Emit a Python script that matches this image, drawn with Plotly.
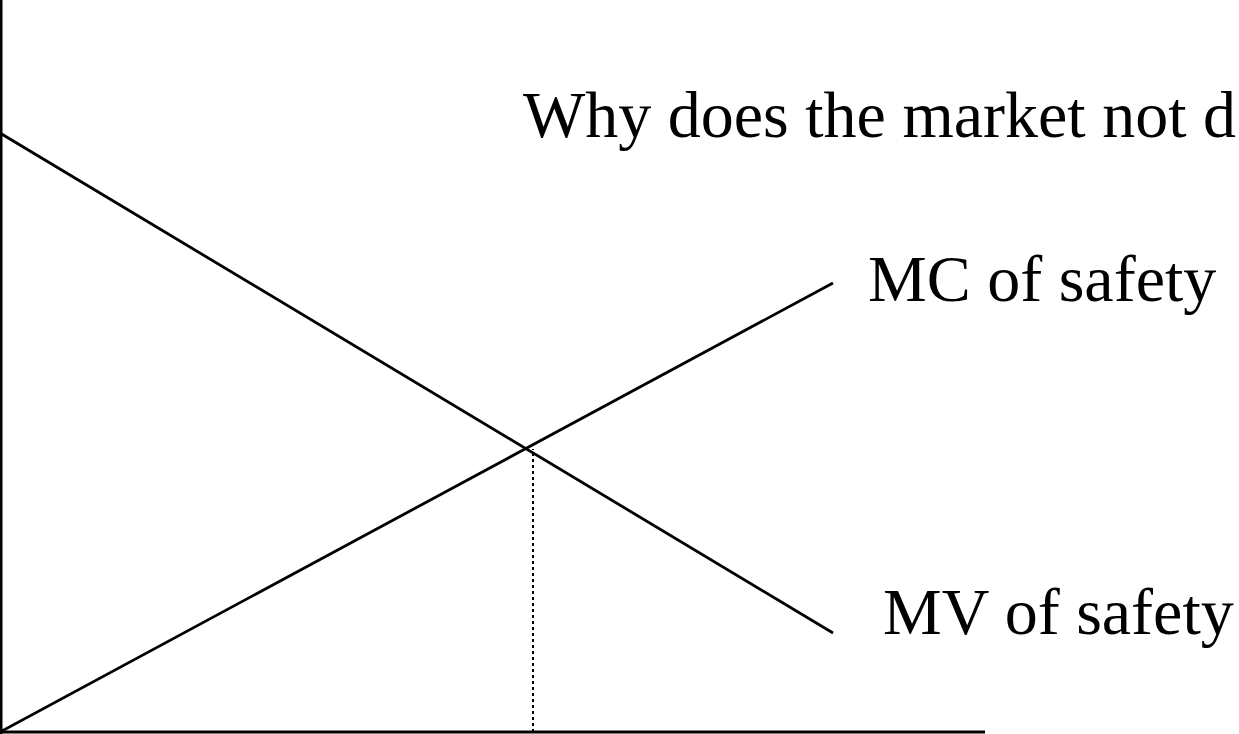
import plotly.graph_objects as go

# Data (value units on a 0..734 vertical scale, quantity on 0..1239)
quantity = [0, 833]
mv_safety = [601, 101]
mc_safety = [2, 451]
eq_quantity = [533, 533]
eq_value = [2, 285]
x_axis_x = [0, 985]
x_axis_y = [2, 2]
y_axis_x = [1, 1]
y_axis_y = [0, 734]

labels = ["Why does the market not d", "MC of safety", "MV of safety"]
label_x = [521, 866, 881]
label_y = [620, 456, 123]
label_size = [66, 66, 66]

fig = go.Figure()
line_style = dict(color="black", width=2.8)
fig.add_trace(go.Scatter(x=y_axis_x, y=y_axis_y, mode="lines", line=dict(color="black", width=3)))
fig.add_trace(go.Scatter(x=x_axis_x, y=x_axis_y, mode="lines", line=dict(color="black", width=3)))
fig.add_trace(go.Scatter(x=quantity, y=mv_safety, mode="lines", line=line_style))
fig.add_trace(go.Scatter(x=quantity, y=mc_safety, mode="lines", line=line_style))
fig.add_trace(go.Scatter(x=eq_quantity, y=eq_value, mode="lines",
                         line=dict(color="black", width=2, dash="dot")))

for t, x, y, s in zip(labels, label_x, label_y, label_size):
    fig.add_annotation(x=x, y=y, text=t, showarrow=False, xanchor="left", yanchor="middle",
                       font=dict(family="Liberation Serif, Times New Roman, serif", size=s, color="black"))

fig.update_layout(
    width=1239, height=734,
    margin=dict(l=0, r=0, t=0, b=0),
    paper_bgcolor="white", plot_bgcolor="white",
    showlegend=False,
    xaxis=dict(range=[0, 1239], visible=False, fixedrange=True),
    yaxis=dict(range=[0, 734], visible=False, fixedrange=True),
)
fig.write_html("out.html", config={"displayModeBar": False},
               post_script="document.body.style.margin='0';document.body.style.overflow='hidden';")
